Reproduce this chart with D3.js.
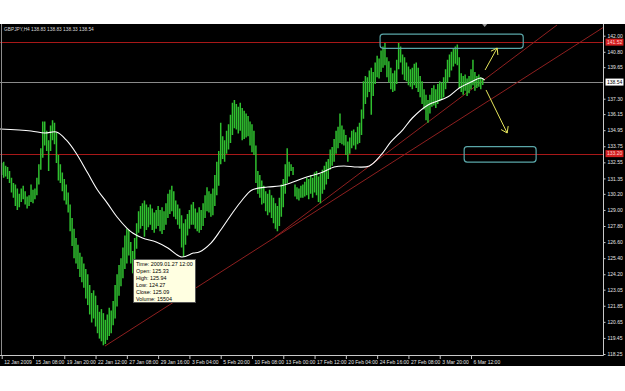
<!DOCTYPE html>
<html>
<head>
<meta charset="utf-8">
<script src="https://cdn.jsdelivr.net/npm/d3@7"></script>
<style>
	body { margin: 0; background: #fff; }
	svg text { font-family: "Liberation Sans", Arial, sans-serif; }
</style>
</head>
<body>
<div id="chart"></div>
<script>
// chart header
const symbolTitle = 'GBPJPY,H4 138.83 138.83 138.33 138.54';

// H4 bars, one entry per bar (index 0 = first visible bar)
const barHigh = [
	132.5, 132.6, 132.3, 132.2, 131.9, 131.4, 131.0, 130.9, 130.6, 130.2,
	130.6, 130.8, 130.4, 130.0, 130.1, 130.9, 130.5, 130.6, 131.4, 132.4,
	133.6, 135.6, 135.6, 134.9, 134.2, 135.3, 135.7, 135.5, 134.8, 133.1,
	132.4, 131.8, 131.3, 130.9, 130.3, 129.4, 128.4, 127.6, 126.9, 126.4,
	125.8, 125.5, 125.0, 124.6, 124.2, 123.4, 122.8, 123.0, 122.6, 121.9,
	121.4, 121.6, 121.3, 120.8, 121.2, 121.7, 121.5, 122.2, 123.4, 124.2,
	124.9, 125.4, 126.2, 127.1, 127.6, 127.5, 126.6, 125.94, 126.9, 128.0,
	128.9, 129.3, 129.5, 129.7, 129.4, 129.2, 129.4, 129.1, 128.8, 129.0,
	129.3, 129.0, 129.2, 128.9, 129.5, 130.2, 130.5, 130.8, 130.4, 129.7,
	129.4, 129.1, 128.6, 128.0, 128.3, 128.7, 129.0, 129.4, 129.6, 129.1,
	128.8, 129.2, 129.0, 129.5, 130.1, 130.7, 130.4, 130.2, 130.6, 131.6,
	132.6, 133.4, 135.5, 134.5, 134.2, 134.9, 135.4, 136.1, 137.0, 137.2,
	136.9, 136.7, 137.0, 136.6, 136.4, 136.2, 136.0, 135.6, 135.4, 134.9,
	133.8, 131.9, 131.6, 131.2, 130.8, 130.4, 130.2, 130.5, 130.1, 129.9,
	129.5, 129.3, 129.9, 130.9, 131.3, 132.4, 133.6, 132.6, 132.4, 132.2,
	130.9, 130.7, 130.6, 130.8, 130.9, 131.1, 131.4, 131.3, 131.6, 131.4,
	131.8, 131.9, 131.5, 131.7, 132.0, 132.3, 132.6, 132.8, 133.5, 133.7,
	134.3, 134.9, 135.2, 136.2, 135.3, 135.0, 134.6, 134.1, 134.4, 134.9,
	135.0, 134.8, 135.2, 135.5, 136.5, 138.6, 139.0, 138.9, 139.4, 139.6,
	139.3, 140.0, 140.5, 140.3, 140.9, 141.2, 141.45, 140.4, 140.1, 139.6,
	139.2, 139.4, 140.2, 141.45, 141.2, 140.6, 140.4, 140.0, 139.7, 139.5,
	139.6, 139.9, 140.0, 139.6, 139.0, 138.6, 138.0, 137.6, 137.2, 137.6,
	138.1, 138.3, 138.0, 138.4, 138.6, 138.5, 138.9, 139.5, 140.2, 140.6,
	140.8, 141.0, 141.2, 141.35, 140.4, 139.2, 139.0, 139.1, 138.8, 139.0,
	139.5, 140.2, 139.3, 139.0, 139.1, 138.9, 138.83
];
const barLow = [
	131.6, 131.4, 131.5, 131.3, 131.0, 130.3, 129.9, 129.3, 129.0, 129.2,
	129.6, 129.8, 129.4, 129.1, 129.3, 129.6, 129.5, 129.8, 130.1, 130.9,
	132.0, 132.9, 133.8, 133.4, 131.9, 133.4, 134.2, 133.9, 132.5, 131.2,
	131.0, 130.4, 129.7, 129.4, 128.8, 127.4, 126.3, 125.4, 125.0, 124.6,
	124.0, 123.6, 123.2, 122.4, 121.9, 121.2, 120.6, 120.9, 120.3, 119.8,
	119.4, 119.2, 118.9, 119.0, 119.3, 119.6, 119.8, 120.4, 120.9, 121.8,
	122.6, 123.3, 123.9, 124.6, 125.0, 125.6, 125.0, 124.27, 125.2, 126.1,
	127.3, 127.6, 127.8, 127.0, 127.5, 127.7, 127.9, 127.5, 127.3, 127.6,
	127.8, 127.4, 127.2, 127.5, 127.9, 128.4, 128.7, 128.9, 128.5, 128.3,
	127.9, 127.6, 126.2, 125.5, 126.4, 127.1, 127.6, 127.9, 127.9, 127.6,
	127.4, 127.3, 127.5, 127.8, 128.4, 128.9, 128.8, 128.5, 128.6, 129.3,
	130.1, 130.8, 132.4, 132.8, 132.6, 133.2, 133.5, 134.0, 134.6, 135.1,
	135.0, 134.7, 134.9, 134.2, 134.3, 134.4, 134.5, 133.8, 133.3, 133.1,
	131.0, 130.2, 129.9, 129.4, 129.5, 128.9, 128.6, 128.8, 128.4, 128.0,
	127.6, 127.4, 127.8, 128.5, 129.2, 130.2, 131.0, 131.5, 131.9, 131.6,
	130.0, 129.8, 129.7, 129.9, 129.9, 130.0, 130.1, 129.8, 130.2, 129.9,
	130.3, 130.1, 129.6, 129.5, 130.2, 130.5, 130.9, 131.3, 132.0, 132.3,
	132.6, 133.2, 133.6, 134.0, 133.9, 133.8, 133.1, 132.6, 133.2, 133.6,
	133.8, 133.5, 133.9, 134.0, 134.6, 135.8, 136.9, 137.4, 137.8, 136.1,
	137.5, 138.4, 138.9, 138.8, 139.3, 139.6, 139.8, 138.9, 138.5, 138.0,
	137.8, 137.9, 138.4, 139.5, 140.0, 139.1, 138.7, 138.6, 138.3, 138.2,
	138.0, 138.3, 138.1, 137.8, 137.4, 136.9, 136.5, 135.7, 135.5, 136.2,
	136.7, 136.8, 136.6, 136.9, 137.1, 137.2, 137.4, 138.0, 138.5, 138.9,
	139.4, 139.7, 139.9, 139.8, 138.1, 137.8, 137.6, 137.9, 137.5, 137.7,
	138.0, 138.3, 137.9, 138.1, 138.2, 138.0, 138.33
];

// time scale labels, one every 16 bars
const timeLabels = [
	'12 Jan 2009', '15 Jan 08:00', '19 Jan 20:00', '22 Jan 12:00', '27 Jan 08:00', '29 Jan 16:00',
	'3 Feb 04:00', '5 Feb 20:00', '10 Feb 08:00', '13 Feb 00:00', '17 Feb 12:00', '20 Feb 04:00',
	'24 Feb 16:00', '27 Feb 08:00', '3 Mar 20:00', '6 Mar 12:00'
];
const barsPerLabel = 16;

// price scale labels
const priceTicks = [
	142.00, 140.80, 139.65, 137.30, 136.15, 134.95, 133.75, 132.55, 131.35, 130.20,
	129.00, 127.80, 126.60, 125.40, 124.20, 123.05, 121.85, 120.65, 119.45, 118.25
];

// moving average (bar index, value)
const maBars = [
	-1, 15, 22, 28, 33, 38, 44, 49, 54, 59, 64, 67, 72, 79, 85, 92, 98, 101, 107, 112, 118,
	123, 128, 136, 142, 149, 156, 163, 170, 175, 182, 188, 194, 199, 205, 210, 218, 228, 234, 240, 245, 247
];
const maValues = [
	135.04, 134.89, 134.74, 134.81, 134.22, 133.25, 131.75, 130.49, 129.51, 128.47, 127.65, 127.28,
	126.90, 126.60, 126.16, 125.49, 125.78, 125.86, 126.53, 127.50, 128.77, 129.74, 130.49, 130.71,
	130.78, 131.08, 131.46, 131.75, 132.20, 132.28, 132.20, 132.28, 133.10, 134.07, 134.96, 135.86,
	136.83, 137.42, 138.10, 138.54, 138.84, 138.69
];

// current price and horizontal levels
const lastPrice = 138.54;
const levelPrices = [141.52, 133.20];

// trendlines: [bar1, price1, bar2, price2]
const trendLines = [
	[52.8, 118.84, 308, 142.65],
	[139.8, 126.98, 284, 142.80]
];

// zones: [bar1, priceTop, bar2, priceBottom]
const zoneBoxes = [
	[193.5, 142.12, 266.7, 141.06],
	[236.5, 133.72, 273.3, 132.57]
];

// arrows: [barFrom, priceFrom, barTo, priceTo]
const arrowLines = [
	[247.2, 139.44, 253.4, 141.08],
	[247.7, 137.95, 258.5, 134.74]
];

// data window tooltip
const tooltipBar = 67;
const tooltipPrice = 125.33;
const tooltipLines = ['Time: 2009.01.27 12:00', 'Open: 125.33', 'High: 125.94', 'Low: 124.27', 'Close: 125.09', 'Volume: 15504'];

class BarChart {
	constructor(_config) {
		this.config = {
			parentElement: _config.parentElement,
			containerWidth: _config.containerWidth || 625,
			containerHeight: _config.containerHeight || 391,
			plotTop: 24,
			plotBottom: 355,
			plotRight: 603.5,
			frameBottom: 366,
			barColor: '#2fbf2f',
			levelColor: '#a81818',
			trendColor: '#8e1f1f',
			boxColor: '#5aa6a8',
			arrowColor: '#e6e65c',
			axisColor: '#c8c8c8',
			fontSize: 5
		};
		this.initVis();
	}

	initVis() {
		const vis = this;
		const c = vis.config;

		vis.svg = d3.select(c.parentElement).append('svg')
			.attr('width', c.containerWidth)
			.attr('height', c.containerHeight)
			.style('display', 'block');

		// black chart window
		vis.svg.append('rect')
			.attr('x', 0).attr('y', c.plotTop)
			.attr('width', c.containerWidth).attr('height', c.frameBottom - c.plotTop)
			.attr('fill', '#000');

		vis.svg.append('clipPath').attr('id', 'plot-clip')
			.append('rect')
			.attr('x', 0).attr('y', c.plotTop)
			.attr('width', c.plotRight).attr('height', c.plotBottom - c.plotTop);

		// scales: x by bar index, y by price
		vis.xScale = d3.scaleLinear().domain([0, 240]).range([1.7, 471]);
		vis.yScale = d3.scaleLinear().domain([118.25, 142.00]).range([354, 35.7]);

		vis.plot = vis.svg.append('g').attr('clip-path', 'url(#plot-clip)');

		vis.renderVis();
	}

	renderVis() {
		const vis = this;
		const c = vis.config;
		const x = vis.xScale;
		const y = vis.yScale;

		// horizontal levels
		vis.plot.selectAll('.level')
			.data(levelPrices)
			.join('line')
			.attr('class', 'level')
			.attr('x1', 0).attr('x2', c.plotRight)
			.attr('y1', d => Math.round(y(d)) + 0.5).attr('y2', d => Math.round(y(d)) + 0.5)
			.attr('stroke', c.levelColor);

		// current price line
		vis.plot.append('line')
			.attr('x1', 0).attr('x2', c.plotRight)
			.attr('y1', Math.round(y(lastPrice)) + 0.5).attr('y2', Math.round(y(lastPrice)) + 0.5)
			.attr('stroke', '#8a8a8a');

		// trendlines, extended to the right as rays
		vis.plot.selectAll('.trend')
			.data(trendLines)
			.join('line')
			.attr('class', 'trend')
			.attr('x1', d => x(d[0])).attr('y1', d => y(d[1]))
			.attr('x2', d => x(d[2])).attr('y2', d => y(d[3]))
			.attr('stroke', c.trendColor)
			.attr('stroke-width', 1);

		// price bars (wide enough that jpeg chroma keeps them green)
		vis.plot.selectAll('.bar')
			.data(barHigh.map((h, i) => ({ i, h, l: barLow[i] })))
			.join('line')
			.attr('class', 'bar')
			.attr('x1', d => x(d.i)).attr('x2', d => x(d.i))
			.attr('y1', d => y(d.h)).attr('y2', d => y(d.l))
			.attr('stroke', c.barColor)
			.attr('stroke-width', 1.5);

		// moving average
		const maLine = d3.line()
			.x((d, i) => x(d))
			.y((d, i) => y(maValues[i]))
			.curve(d3.curveCatmullRom);

		vis.plot.append('path')
			.datum(maBars)
			.attr('d', maLine)
			.attr('fill', 'none')
			.attr('stroke', '#fff')
			.attr('stroke-width', 1.1);

		// zone boxes
		vis.plot.selectAll('.zone')
			.data(zoneBoxes)
			.join('rect')
			.attr('class', 'zone')
			.attr('x', d => x(d[0])).attr('y', d => y(d[1]))
			.attr('width', d => x(d[2]) - x(d[0])).attr('height', d => y(d[3]) - y(d[1]))
			.attr('rx', 3)
			.attr('fill', 'none')
			.attr('stroke', c.boxColor)
			.attr('stroke-width', 1.2);

		// arrows with open heads
		const arrows = vis.plot.selectAll('.arrow')
			.data(arrowLines)
			.join('g')
			.attr('class', 'arrow');

		arrows.append('path')
			.attr('d', d => {
				const x1 = x(d[0]), y1 = y(d[1]), x2 = x(d[2]), y2 = y(d[3]);
				const a = Math.atan2(y1 - y2, x1 - x2);
				const len = 7, spread = 0.6;
				return `M${x1},${y1}L${x2},${y2}` +
					`M${x2 + len * Math.cos(a - spread)},${y2 + len * Math.sin(a - spread)}L${x2},${y2}` +
					`L${x2 + len * Math.cos(a + spread)},${y2 + len * Math.sin(a + spread)}`;
			})
			.attr('fill', 'none')
			.attr('stroke', c.arrowColor)
			.attr('stroke-width', 1);

		// left border
		vis.svg.append('line')
			.attr('x1', 1.5).attr('x2', 1.5)
			.attr('y1', c.plotTop).attr('y2', c.plotBottom)
			.attr('stroke', '#8c8c8c');

		// price axis
		vis.svg.append('line')
			.attr('x1', c.plotRight).attr('x2', c.plotRight)
			.attr('y1', c.plotTop).attr('y2', c.plotBottom + 0.5)
			.attr('stroke', c.axisColor);

		vis.yAxisG = vis.svg.append('g')
			.attr('transform', `translate(${c.plotRight}, 0)`)
			.call(d3.axisRight(y).tickValues(priceTicks).tickFormat(d3.format('.2f')).tickSize(2).tickPadding(2));

		vis.yAxisG.select('.domain').remove();
		vis.yAxisG.attr('font-size', c.fontSize).attr('font-family', null);
		vis.yAxisG.selectAll('line').attr('stroke', c.axisColor);
		vis.yAxisG.selectAll('text').attr('fill', '#e4e4e4');

		// time axis
		vis.svg.append('line')
			.attr('x1', 0).attr('x2', c.plotRight)
			.attr('y1', c.plotBottom + 0.5).attr('y2', c.plotBottom + 0.5)
			.attr('stroke', c.axisColor);

		vis.xAxisG = vis.svg.append('g')
			.attr('transform', `translate(0, ${c.plotBottom})`)
			.call(d3.axisBottom(x)
				.tickValues(timeLabels.map((d, i) => i * barsPerLabel))
				.tickFormat((d, i) => timeLabels[i])
				.tickSize(4).tickPadding(1));

		vis.xAxisG.select('.domain').remove();
		vis.xAxisG.attr('font-size', c.fontSize).attr('font-family', null);
		vis.xAxisG.selectAll('line').attr('stroke', c.axisColor);
		vis.xAxisG.selectAll('text').attr('fill', '#e4e4e4').attr('text-anchor', 'start').attr('x', 2);

		// level labels on the price axis
		const labelData = levelPrices.map(p => ({ p, fill: '#d42020', text: '#ffd0d0' }))
			.concat([{ p: lastPrice, fill: '#fff', text: '#000' }]);

		const priceLabels = vis.svg.selectAll('.price-label')
			.data(labelData)
			.join('g')
			.attr('class', 'price-label')
			.attr('transform', d => `translate(${c.plotRight + 2}, ${y(d.p)})`);

		priceLabels.append('rect')
			.attr('x', 0).attr('y', -3.5)
			.attr('width', 18).attr('height', 7)
			.attr('fill', d => d.fill);

		priceLabels.append('text')
			.attr('x', 1.5).attr('dy', '0.35em')
			.attr('font-size', c.fontSize)
			.attr('fill', d => d.text)
			.text(d => d3.format('.2f')(d.p));

		// header
		vis.svg.append('text')
			.attr('x', 4).attr('y', 31)
			.attr('font-size', 4.8)
			.attr('fill', '#d8d8d8')
			.text(symbolTitle);

		// chart shift marker
		const sx = x(barHigh.length);
		vis.svg.append('path')
			.attr('d', `M${sx - 2.5},${c.plotTop}L${sx + 2.5},${c.plotTop}L${sx},${c.plotTop + 3}Z`)
			.attr('fill', '#9a9a9a');

		// data window tooltip
		const tip = vis.svg.append('g')
			.attr('transform', `translate(${Math.round(x(tooltipBar)) + 0.5}, ${Math.round(y(tooltipPrice)) + 0.5})`);

		tip.append('rect')
			.attr('width', 62).attr('height', 43)
			.attr('fill', '#ffffe1')
			.attr('stroke', '#555');

		tip.selectAll('text')
			.data(tooltipLines)
			.join('text')
			.attr('x', 2.5)
			.attr('y', (d, i) => 6.5 + i * 7)
			.attr('font-size', 5.4)
			.attr('fill', '#000')
			.text(d => d);
	}
}

const chart = new BarChart({ parentElement: '#chart' });
</script>
</body>
</html>
